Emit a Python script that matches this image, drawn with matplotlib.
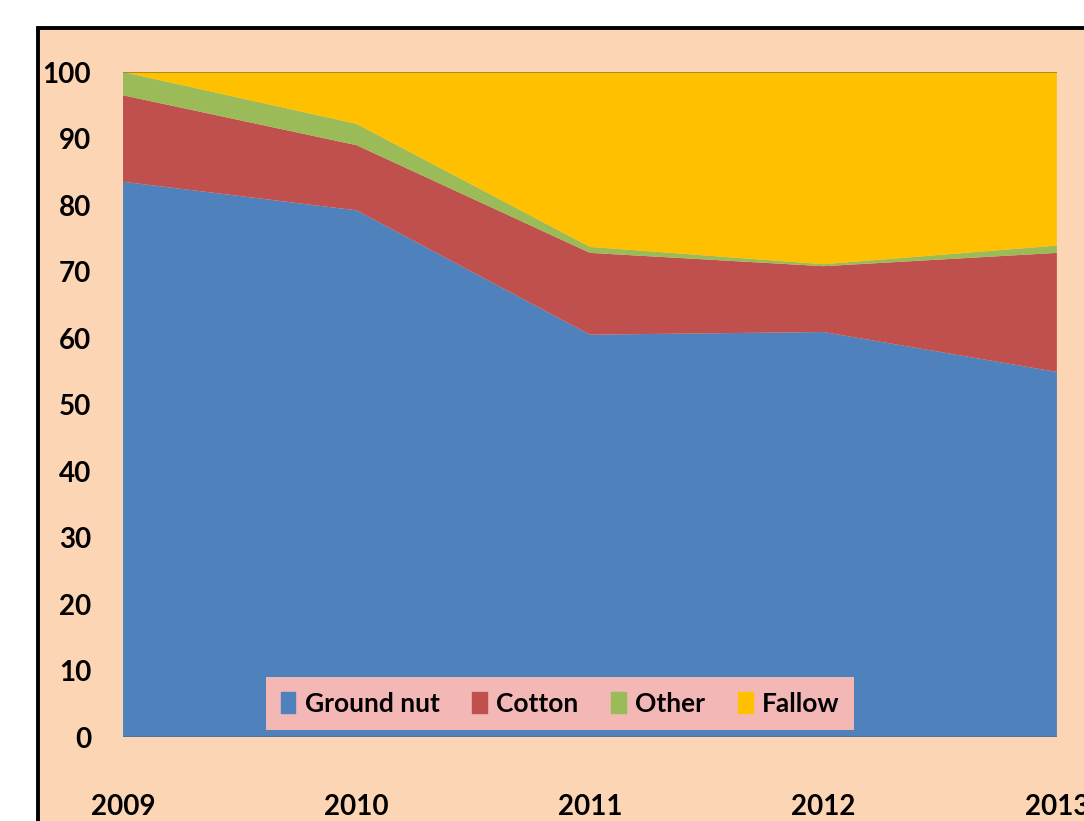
import matplotlib.pyplot as plt
import matplotlib.patches as mpatches
import numpy as np

# share of land use (%) per year
years = [2009, 2010, 2011, 2012, 2013]
ground_nut = [83.5, 79.2, 60.5, 60.9, 54.9]
cotton = [13.0, 9.8, 12.3, 9.9, 17.9]
other = [3.5, 3.2, 0.9, 0.3, 1.1]
fallow = [0.0, 7.8, 26.3, 28.9, 26.1]
labels = ['Ground nut', 'Cotton', 'Other', 'Fallow']
colors = ['#4F81BD', '#C0504D', '#9BBB59', '#FFC000']

peach = '#FCD5B4'

plt.rcParams['font.family'] = ['Lato', 'DejaVu Sans']
plt.rcParams['font.weight'] = 'bold'

fig = plt.figure(figsize=(10.84, 8.21), dpi=100)
fig.patch.set_facecolor('white')

# chart area with black frame (only top/left edges fall inside the image)
frame = mpatches.Rectangle((0.035, -0.1), 1.2, 0.966 + 0.1, transform=fig.transFigure,
                           facecolor=peach, edgecolor='black', linewidth=2.8, zorder=-1)
fig.patches.append(frame)

ax = fig.add_axes([0.1135, 0.1023, 0.8615, 0.81])
ax.set_facecolor(peach)
polys = ax.stackplot(years, ground_nut, cotton, other, fallow, colors=colors, labels=labels,
                     edgecolor='none')
ax.plot(years, [100] * len(years), color='#A08020', linewidth=1.2)
ax.plot(years, [0] * len(years), color='#55709A', linewidth=1.5)

ax.set_xlim(2009, 2013)
ax.set_ylim(0, 100)
ax.set_yticks(np.arange(0, 101, 10))
ax.set_xticks(years)
for s in ax.spines.values():
    s.set_visible(False)
ax.tick_params(axis='both', length=0, labelsize=20, colors='black')
ax.tick_params(axis='y', pad=23)
ax.tick_params(axis='x', pad=41)

handles = [mpatches.Patch(color=c) for c in colors]
leg = ax.legend(handles, labels, loc='center', bbox_to_anchor=(0.468, 0.05), ncol=4,
                frameon=True, fancybox=False, facecolor='#F3B8B6', edgecolor='none',
                framealpha=1, fontsize=19, handlelength=0.55, handleheight=0.8,
                handletextpad=0.35, columnspacing=1.25, borderpad=0.55)
for t in leg.get_texts():
    t.set_fontweight('bold')

fig.savefig('out.png', dpi=100, facecolor=fig.get_facecolor())
